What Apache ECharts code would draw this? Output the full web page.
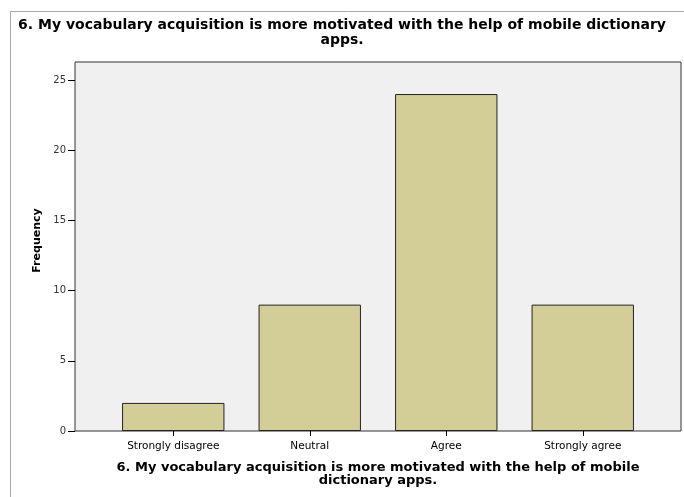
<!DOCTYPE html>
<html>
<head>
<meta charset="utf-8">
<script src="https://cdn.jsdelivr.net/npm/echarts@6/dist/echarts.min.js"></script>
<style>
html, body { margin: 0; padding: 0; background: #fff; }
#chart { width: 684px; height: 497px; }
</style>
</head>
<body>
<div id="chart"></div>
<script>
// survey answers, question 6
var categories = ['Strongly disagree', 'Neutral', 'Agree', 'Strongly agree'];
var frequency = [2, 9, 24, 9];
var yMin = 0;
var yMax = 25;
var yStep = 5;

var chart = echarts.init(document.getElementById('chart'));
var font = '"DejaVu Sans", Verdana, sans-serif';

var option = {
    animation: false,
    textStyle: { fontFamily: font },
    title: {
        text: '6. My vocabulary acquisition is more motivated with the help of mobile dictionary\napps.',
        left: 'center',
        top: 13,
        padding: [5, 0, 5, 10],
        textStyle: { fontSize: 14, fontWeight: 'bold', color: '#000', lineHeight: 15, fontFamily: font }
    },
    graphic: [{
        type: 'rect',
        shape: { x: 10.5, y: 11.5, width: 700, height: 500 },
        style: { fill: 'none', stroke: '#a8a8a8', lineWidth: 1 },
        silent: true
    }],
    grid: [
        // frame + grey plot background
        { left: 75, right: 3, top: 62, bottom: 66, show: true, backgroundColor: '#f0f0f0', borderColor: '#333', borderWidth: 1 },
        // bars, padded on both sides inside the frame; top = value 25
        { left: 105, right: 33, top: 80, bottom: 66 }
    ],
    xAxis: [
        { gridIndex: 0, type: 'value', show: false },
        {
            gridIndex: 1,
            type: 'category',
            data: categories,
            axisLine: { show: false },
            axisTick: { show: true, alignWithLabel: true, length: 5, lineStyle: { color: '#000' } },
            axisLabel: { color: '#000', fontSize: 10.5, margin: 10, interval: 0 },
            name: '6. My vocabulary acquisition is more motivated with the help of mobile\ndictionary apps.',
            nameLocation: 'middle',
            nameGap: 30,
            nameTextStyle: { fontSize: 13, fontWeight: 'bold', color: '#000', lineHeight: 13 }
        }
    ],
    yAxis: [
        {
            // only carries the axis title, centred on the frame
            gridIndex: 0,
            type: 'value',
            axisLine: { show: false },
            axisTick: { show: false },
            axisLabel: { show: false },
            splitLine: { show: false },
            name: 'Frequency',
            nameLocation: 'middle',
            nameGap: 32,
            nameTextStyle: { fontSize: 11, fontWeight: 'bold', color: '#000', padding: [0, 0, 0, 12] }
        },
        {
            gridIndex: 1,
            type: 'value',
            min: yMin,
            max: yMax,
            interval: yStep,
            offset: 30,
            axisLine: { show: false },
            axisTick: { show: true, length: 7, lineStyle: { color: '#000' } },
            splitLine: { show: false },
            axisLabel: { color: '#333', fontSize: 10, margin: 9 }
        }
    ],
    series: [{
        type: 'bar',
        xAxisIndex: 1,
        yAxisIndex: 1,
        data: frequency,
        barWidth: '75%',
        itemStyle: { color: '#d3ce97', borderColor: '#222', borderWidth: 1 }
    }]
};
chart.setOption(option);
</script>
</body>
</html>
